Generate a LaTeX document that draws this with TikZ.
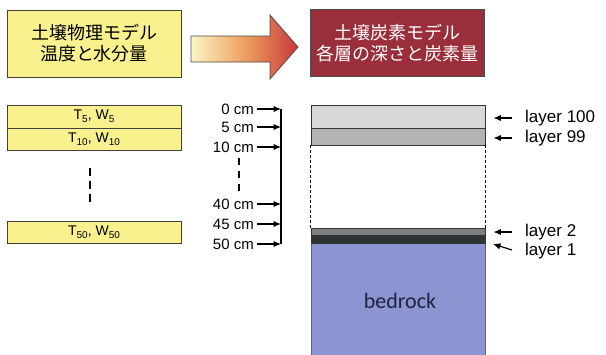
\documentclass[tikz,border=0pt]{standalone}
\usepackage{fontspec}
\setmainfont{Liberation Sans}
\newfontfamily\jpfont{Noto Sans CJK JP}
\newfontfamily\calfont{Carlito}
\usetikzlibrary{arrows.meta,calc}
\definecolor{ylw}{HTML}{F9F18E}
\definecolor{boxred}{HTML}{9A2F3B}
\definecolor{arrL}{HTML}{FBF6C4}
\definecolor{arrM}{HTML}{EDA060}
\definecolor{arrR}{HTML}{C8383C}
\definecolor{lay100}{HTML}{D9D7DA}
\definecolor{lay99}{HTML}{B4B2B5}
\definecolor{lay2}{HTML}{7E7F80}
\definecolor{lay1}{HTML}{2F3436}
\definecolor{rock}{HTML}{8C94D2}
\definecolor{rocktext}{HTML}{1E2440}
\newcommand\lowsub[1]{\raisebox{-0.45ex}{\fontsize{10}{10}\selectfont #1}}
\begin{document}
\begin{tikzpicture}[x=1pt,y=-1pt,
  outline/.style={draw=black!75,line width=1pt},
  titlebox/.style={outline,minimum width=174pt,minimum height=67pt,inner sep=0pt,align=center,
     font=\jpfont\fontsize{18}{21}\selectfont},
  ylayer/.style={outline,fill=ylw,minimum width=174pt,inner sep=0pt,font=\fontsize{14}{14}\selectfont},
  clayer/.style={draw=black!80,line width=0.9pt,minimum width=174pt,inner sep=0pt},
  depth/.style={anchor=east,inner sep=1pt,font=\fontsize{15}{15}\selectfont},
  laylab/.style={anchor=west,inner sep=0pt,font=\fontsize{17}{17}\selectfont},
  arr/.style={-{Latex[length=7.5pt,width=6.5pt]},line width=1.2pt},
]
\useasboundingbox (0,0) rectangle (606,354);

% title boxes
\node[titlebox,fill=ylw] (phys) at (94,43.5) {土壌物理モデル\\温度と水分量};
\node[titlebox,fill=boxred,text=white,draw=black!70] (carb) at (397.5,43) {土壌炭素モデル\\各層の深さと炭素量};

% big arrow
\shade[left color=arrL,right color=arrR,middle color=arrM,draw=black!70,line width=0.8pt]
  (191,36) -- (270,36) -- (270,15) -- (298,47) -- (270,79) -- (270,62) -- (191,62) -- cycle;

% left yellow layers
\node[ylayer,minimum height=23pt] (t5) at (94,116.5) {T\lowsub{5}, W\lowsub{5}};
\node[ylayer,minimum height=22pt] (t10) at (94,139) {T\lowsub{10}, W\lowsub{10}};
\node[ylayer,minimum height=22pt] (t50) at (94,232) {T\lowsub{50}, W\lowsub{50}};
\coordinate (ldA) at (90,168);
\coordinate (ldB) at (90,204);
\draw[line width=2.5pt,dash pattern=on 8pt off 5pt] (ldA) -- (ldB);

% depth labels
\coordinate (btop) at (281,109);
\coordinate (bbot) at (281,244);
\draw[line width=1.2pt] (btop) -- (bbot);
\node[depth] (d0) at (255,109) {0 cm};
\node[depth] (d5) at (255,127) {5 cm};
\node[depth] (d10) at (255,147) {10 cm};
\node[depth] (d40) at (255,204) {40 cm};
\node[depth] (d45) at (255,224) {45 cm};
\node[depth] (d50) at (255,244) {50 cm};
\foreach \n in {d0,d5,d10,d40,d45,d50}
  \draw[arr,shorten <=2pt] (\n.east) -- (\n.east -| btop);
\coordinate (ddA) at (239,158);
\coordinate (ddB) at (239,194);
\draw[line width=2pt,dash pattern=on 7pt off 6pt] (ddA) -- (ddB);

% carbon column
\node[clayer,fill=lay100,minimum height=23pt] (L100) at (398,116.5) {};
\node[clayer,fill=lay99,minimum height=17pt] (L99) at (398,136.5) {};
\draw[line width=0.8pt,dash pattern=on 3pt off 2pt] (L99.south west) -- ++(0,83);
\draw[line width=0.8pt,dash pattern=on 3pt off 2pt] (L99.south east) -- ++(0,83);
\node[clayer,fill=rock,minimum height=112pt,draw=black!60] (rock) at (398,299) {};
\node[clayer,fill=lay1,minimum height=8pt,draw=lay1] (L1) at (398,239) {};
\node[clayer,fill=lay2,minimum height=7pt,draw=black!80] (L2) at (398,231.5) {};
\node[inner sep=0pt,font=\calfont\fontsize{22}{22}\selectfont,text=rocktext] (bed) at (400,301) {bedrock};

% layer labels
\node[laylab] (l100) at (525,118) {layer 100};
\node[laylab] (l99) at (525,138) {layer 99};
\node[laylab] (l2) at (525,232) {layer 2};
\node[laylab] (l1) at (525,251) {layer 1};
\draw[arr,shorten <=13pt,shorten >=8pt] (l100.west) -- (l100.west -| L100.east);
\draw[arr,shorten <=13pt,shorten >=8pt] (l99.west) -- (l99.west -| L99.east);
\draw[arr,shorten <=13pt,shorten >=8pt] (l2.west) -- (l2.west -| L2.east);
\coordinate (l1tip) at (493,244);
\coordinate (l1tail) at (512,250);
\draw[arr] (l1tail) -- (l1tip);
\end{tikzpicture}
\end{document}
